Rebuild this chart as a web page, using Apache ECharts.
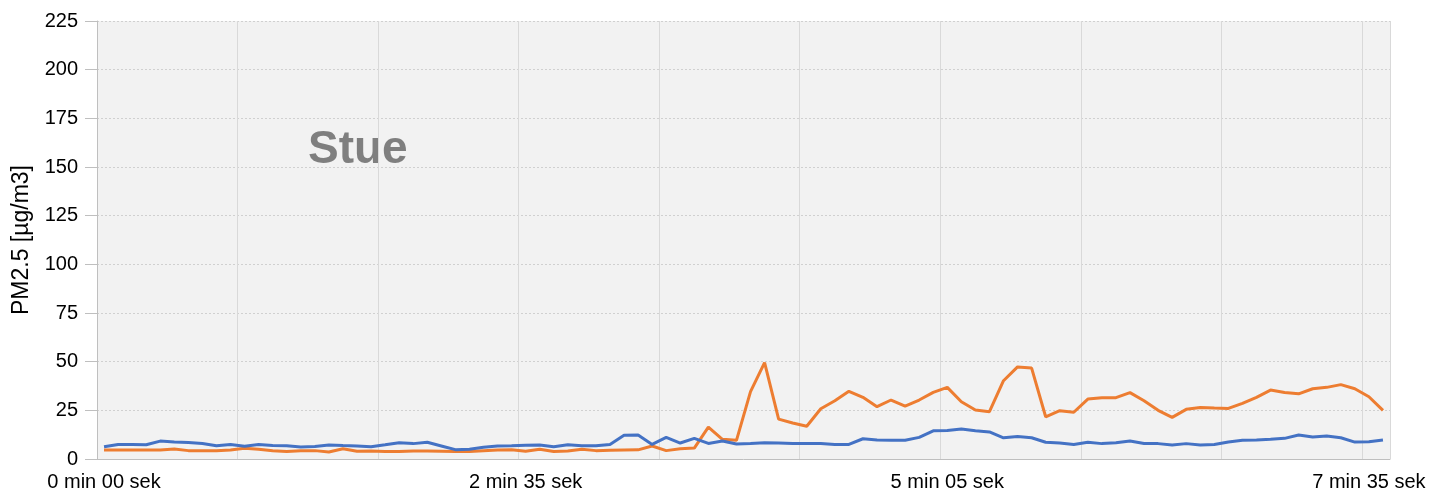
<!DOCTYPE html>
<html>
<head>
    <meta charset="UTF-8">
    <title>Stue PM2.5</title>
    <script type="text/javascript" src="https://cdn.jsdelivr.net/npm/echarts@6/dist/echarts.min.js"></script>
</head>
<body style="margin:0">

<div id="main" style="height: 497px; width: 1444px;"></div>
<script type="text/javascript">

    // maalinger, ca. 5 sek mellem hver
    var blue = [6.3, 7.5, 7.4, 7.3, 9.2, 8.7, 8.5, 8.0, 6.8, 7.5, 6.6, 7.4, 6.9, 6.8, 6.2, 6.4, 7.2, 6.9,
        6.7, 6.3, 7.3, 8.4, 7.9, 8.6, 6.7, 4.8, 5.0, 6.0, 6.7, 6.8, 7.0, 7.2, 6.3, 7.3, 6.8, 6.8, 7.5,
        12.2, 12.3, 7.5, 11.1, 8.2, 10.6, 8.0, 9.2, 7.7, 8.0, 8.4, 8.2, 8.0, 7.9, 7.9, 7.5, 7.5, 10.4,
        9.8, 9.6, 9.6, 11.1, 14.5, 14.7, 15.4, 14.5, 13.9, 10.9, 11.5, 10.9, 8.6, 8.2, 7.5, 8.6, 7.9, 8.4, 9.2,
        8.0, 7.9, 7.2, 7.9, 7.2, 7.4, 8.7, 9.6, 9.8, 10.1, 10.6, 12.3, 11.3, 11.8, 10.9, 8.7, 8.9, 9.8];

    var orange = [4.6, 4.6, 4.6, 4.6, 4.6, 5.1, 4.3, 4.3, 4.3, 4.6, 5.5, 5.0, 4.2, 3.9, 4.2, 4.3, 3.6, 5.3,
        4.0, 4.1, 3.8, 3.8, 4.1, 4.1, 4.0, 3.8, 3.8, 4.3, 4.6, 4.8, 4.0, 5.0, 3.8, 4.1, 5.0, 4.3, 4.5,
        4.6, 4.7, 6.7, 4.3, 5.3, 5.6, 16.4, 10.1, 9.6, 34.6, 49.5, 20.5, 18.5, 16.8, 25.8, 29.9, 34.8, 31.7,
        26.9, 30.3, 27.2, 30.3, 34.2, 36.8, 29.4, 25.2, 24.3, 40.2, 47.3, 46.7, 21.7, 24.8, 24.0, 30.8, 31.5, 31.5, 34.1,
        29.9, 25.0, 21.4, 25.5, 26.5, 26.2, 26.0, 28.6, 31.7, 35.4, 34.2, 33.5, 36.1, 36.8, 38.2, 36.1, 32.0, 25.0];

    // etiketter paa x-aksen, hver 30. maaling
    var tickLabels = ['0 min 00 sek', '2 min 35 sek', '5 min 05 sek', '7 min 35 sek'];
    var labelEvery = 30;
    var yTicks = [0, 25, 50, 75, 100, 125, 150, 175, 200, 225];

    var samples = blue.map(function (v, i) { return String(i); });

    var font = '"Liberation Sans", Arial, sans-serif';

    var myChart = echarts.init(document.getElementById('main'));

    option = {
        animation: false,
        textStyle: { fontFamily: font },
        grid: {
            left: 97,
            right: 54,
            top: 21,
            bottom: 38,
            show: true,
            backgroundColor: '#f2f2f2',
            borderWidth: 0
        },
        graphic: [{
            type: 'text',
            left: 308,
            top: 127,
            style: {
                text: 'Stue',
                fill: '#7f7f7f',
                font: 'bold 46px ' + font
            }
        }],
        xAxis: {
            type: 'category',
            data: samples,
            boundaryGap: true,
            axisLine: { lineStyle: { color: '#bfbfbf', width: 1 } },
            axisTick: { interval: 9, length: 7, lineStyle: { color: '#bfbfbf' } },
            splitLine: { show: true, interval: 9, lineStyle: { color: '#d9d9d9', width: 1 } },
            axisLabel: {
                interval: labelEvery - 1,
                color: '#000',
                fontSize: 20,
                margin: 13,
                formatter: function (v, idx) {
                    return tickLabels[idx / labelEvery] || '';
                }
            }
        },
        yAxis: {
            type: 'value',
            min: yTicks[0],
            max: yTicks[yTicks.length - 1],
            interval: 25,
            name: 'PM2.5 [µg/m3]',
            nameLocation: 'middle',
            nameGap: 64,
            nameTextStyle: { color: '#000', fontSize: 23 },
            axisLine: { show: true, lineStyle: { color: '#bfbfbf', width: 1 } },
            axisTick: { show: true, length: 12, lineStyle: { color: '#bfbfbf' } },
            splitLine: { lineStyle: { color: '#d0d0d0', type: [2, 2], width: 1 } },
            axisLabel: { color: '#000', fontSize: 20, margin: 19 }
        },
        series: [{
            name: 'orange',
            type: 'line',
            data: orange,
            showSymbol: false,
            lineStyle: { color: '#ed7d31', width: 3 },
            itemStyle: { color: '#ed7d31' }
        }, {
            name: 'blue',
            type: 'line',
            data: blue,
            showSymbol: false,
            lineStyle: { color: '#4472c4', width: 3 },
            itemStyle: { color: '#4472c4' }
        }]
    };

    myChart.setOption(option);

</script>

</body>
</html>
